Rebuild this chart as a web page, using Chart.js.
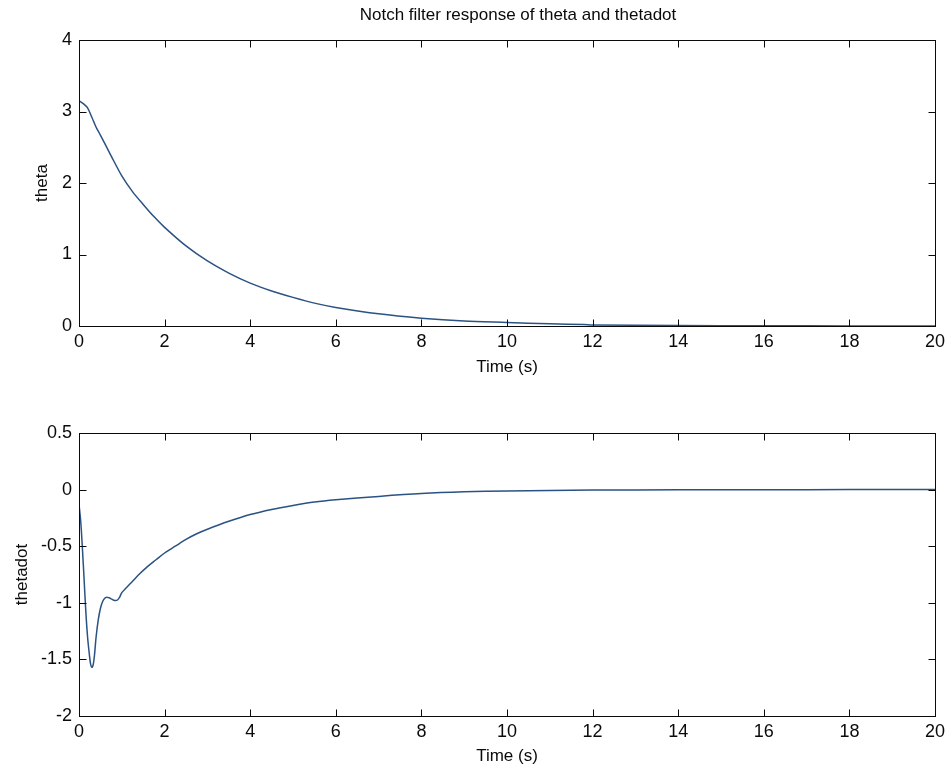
<!DOCTYPE html>
<html>
<head>
<meta charset="utf-8">
<script src="https://cdn.jsdelivr.net/npm/chart.js@4/dist/chart.umd.min.js"></script>
<style>
  html, body { margin: 0; padding: 0; background: #ffffff; }
  #wrap { position: relative; width: 951px; height: 771px; overflow: hidden; }
  canvas { position: absolute; left: 0; }
  #thetaChart { top: 0; }
  #thetadotChart { top: 385px; }
</style>
</head>
<body>
<div id="wrap">
  <canvas id="thetaChart" width="951" height="385"></canvas>
  <canvas id="thetadotChart" width="951" height="386"></canvas>
</div>
<script>
// Simulated notch-filter response: angle (theta) and angular rate (thetadot)
const titleText = 'Notch filter response of theta and thetadot';

const thetaTime = [0, 0.1, 0.2, 0.3, 0.4, 0.5, 0.75, 1, 1.25, 1.5, 1.75, 2, 2.5, 3, 3.5, 4, 4.5, 5, 5.5, 6, 7, 8, 9, 10, 11, 11.8, 12, 14, 16, 18, 20];
const thetaValues = [3.15, 3.11, 3.05, 2.92, 2.78, 2.67, 2.38, 2.10, 1.88, 1.70, 1.53, 1.38, 1.12, 0.91, 0.74, 0.60, 0.49, 0.40, 0.32, 0.26, 0.17, 0.11, 0.07, 0.05, 0.03, 0.02, 0.015, 0.007, 0.003, 0.001, 0.0];

const thetadotTime = [0, 0.04, 0.08, 0.12, 0.16, 0.2, 0.24, 0.27, 0.3, 0.33, 0.36, 0.4, 0.45, 0.5, 0.55, 0.6, 0.65, 0.7, 0.75, 0.8, 0.85, 0.9, 0.95, 1.0, 1.1, 1.2, 1.4, 1.6, 1.8, 2.0, 2.25, 2.5, 2.75, 3.0, 3.5, 4.0, 4.5, 5, 5.5, 6, 7, 8, 9, 10, 11, 12, 14, 16, 18, 20];
const thetadotValues = [-0.13, -0.28, -0.52, -0.80, -1.08, -1.30, -1.45, -1.54, -1.57, -1.55, -1.47, -1.30, -1.15, -1.05, -0.99, -0.96, -0.95, -0.955, -0.965, -0.975, -0.98, -0.975, -0.95, -0.91, -0.87, -0.83, -0.75, -0.68, -0.62, -0.56, -0.50, -0.44, -0.39, -0.35, -0.28, -0.22, -0.175, -0.14, -0.11, -0.09, -0.06, -0.035, -0.02, -0.012, -0.007, -0.004, -0.0015, -0.0005, -0.0002, 0];

const timeTicks = [0, 2, 4, 6, 8, 10, 12, 14, 16, 18, 20];
const timeTickLabels = ['0', '2', '4', '6', '8', '10', '12', '14', '16', '18', '20'];
const thetaTicks = [0, 1, 2, 3, 4];
const thetaTickLabels = ['0', '1', '2', '3', '4'];
const thetadotTicks = [-2, -1.5, -1, -0.5, 0, 0.5];
const thetadotTickLabels = ['-2', '-1.5', '-1', '-0.5', '0', '0.5'];

const FONT = 'Arial, "Liberation Sans", Helvetica, sans-serif';
const INK = '#0a0a0a';
const LINE = '#2a5283';

function toPoints(xs, ys) {
  return xs.map((x, i) => ({ x: x, y: ys[i] }));
}

function labelFrom(values, labels) {
  return function (v) {
    const i = values.findIndex(t => Math.abs(t - v) < 1e-9);
    return i >= 0 ? labels[i] : '';
  };
}

// Box around the plot area with inward tick marks on all four sides
const boxTicks = {
  id: 'boxTicks',
  afterDraw(chart) {
    const { ctx, chartArea: a, scales } = chart;
    const xs = scales.x, ys = scales.y;
    const L = Math.round(a.left) + 0.5, R = Math.round(a.right) + 0.5;
    const T = Math.round(a.top) + 0.5, B = Math.round(a.bottom) + 0.5;
    const len = 7;
    ctx.save();
    ctx.strokeStyle = INK;
    ctx.lineWidth = 1;
    ctx.beginPath();
    xs.ticks.forEach(t => {
      const p = Math.round(xs.getPixelForValue(t.value)) + 0.5;
      ctx.moveTo(p, B); ctx.lineTo(p, B - len);
      ctx.moveTo(p, T); ctx.lineTo(p, T + len);
    });
    ys.ticks.forEach(t => {
      const p = Math.round(ys.getPixelForValue(t.value)) + 0.5;
      ctx.moveTo(L, p); ctx.lineTo(L + len, p);
      ctx.moveTo(R, p); ctx.lineTo(R - len, p);
    });
    ctx.stroke();
    ctx.strokeRect(L, T, R - L, B - T);
    ctx.restore();
  }
};

// Figure title above the upper axes
const figureTitle = {
  id: 'figureTitle',
  afterDraw(chart, args, opts) {
    if (!opts.text) return;
    const { ctx, chartArea: a } = chart;
    ctx.save();
    ctx.fillStyle = INK;
    ctx.font = '17px ' + FONT;
    ctx.textAlign = 'center';
    ctx.textBaseline = 'middle';
    ctx.fillText(opts.text, (a.left + a.right) / 2 + opts.shift, opts.y);
    ctx.restore();
  }
};

function makeOptions(cfg) {
  return {
    responsive: false,
    animation: false,
    devicePixelRatio: 1,
    layout: { padding: { left: 0, right: 16, top: cfg.padTop, bottom: 0 } },
    plugins: {
      legend: { display: false },
      tooltip: { enabled: false },
      title: { display: false },
      figureTitle: { text: cfg.title, shift: 11, y: 15 }
    },
    scales: {
      x: {
        type: 'linear',
        min: 0, max: 20,
        afterBuildTicks(scale) { scale.ticks = timeTicks.map(v => ({ value: v })); },
        afterFit(scale) { scale.height = cfg.xHeight; },
        grid: { display: false, drawTicks: false },
        border: { display: false },
        ticks: {
          color: INK,
          padding: 5,
          maxRotation: 0,
          autoSkip: false,
          font: { family: FONT, size: 18 },
          callback: labelFrom(timeTicks, timeTickLabels)
        },
        title: {
          display: true,
          text: 'Time (s)',
          color: INK,
          font: { family: FONT, size: 17 },
          padding: { top: 0, bottom: cfg.xTitlePad }
        }
      },
      y: {
        type: 'linear',
        min: cfg.yMin, max: cfg.yMax,
        afterBuildTicks(scale) { scale.ticks = cfg.yTicks.map(v => ({ value: v })); },
        afterFit(scale) { scale.width = 79; },
        grid: { display: false, drawTicks: false },
        border: { display: false },
        ticks: {
          color: INK,
          padding: 7,
          autoSkip: false,
          font: { family: FONT, size: 18 },
          callback: labelFrom(cfg.yTicks, cfg.yLabels)
        },
        title: {
          display: true,
          text: cfg.yTitle,
          color: INK,
          font: { family: FONT, size: 17 },
          padding: { top: cfg.yTitlePad, bottom: 0 }
        }
      }
    }
  };
}

function lineDataset(xs, ys) {
  return {
    data: toPoints(xs, ys),
    borderColor: LINE,
    borderWidth: 1.5,
    pointRadius: 0,
    tension: 0.3,
    fill: false
  };
}

new Chart(document.getElementById('thetaChart'), {
  type: 'line',
  data: { datasets: [lineDataset(thetaTime, thetaValues)] },
  options: makeOptions({
    title: titleText,
    padTop: 40,
    xHeight: 59,
    xTitlePad: 7,
    yMin: 0, yMax: 4,
    yTicks: thetaTicks, yLabels: thetaTickLabels,
    yTitle: 'theta', yTitlePad: 32
  }),
  plugins: [boxTicks, figureTitle]
});

new Chart(document.getElementById('thetadotChart'), {
  type: 'line',
  data: { datasets: [lineDataset(thetadotTime, thetadotValues)] },
  options: makeOptions({
    title: null,
    padTop: 48,
    xHeight: 55,
    xTitlePad: 4,
    yMin: -2, yMax: 0.5,
    yTicks: thetadotTicks, yLabels: thetadotTickLabels,
    yTitle: 'thetadot', yTitlePad: 12
  }),
  plugins: [boxTicks]
});
</script>
</body>
</html>
